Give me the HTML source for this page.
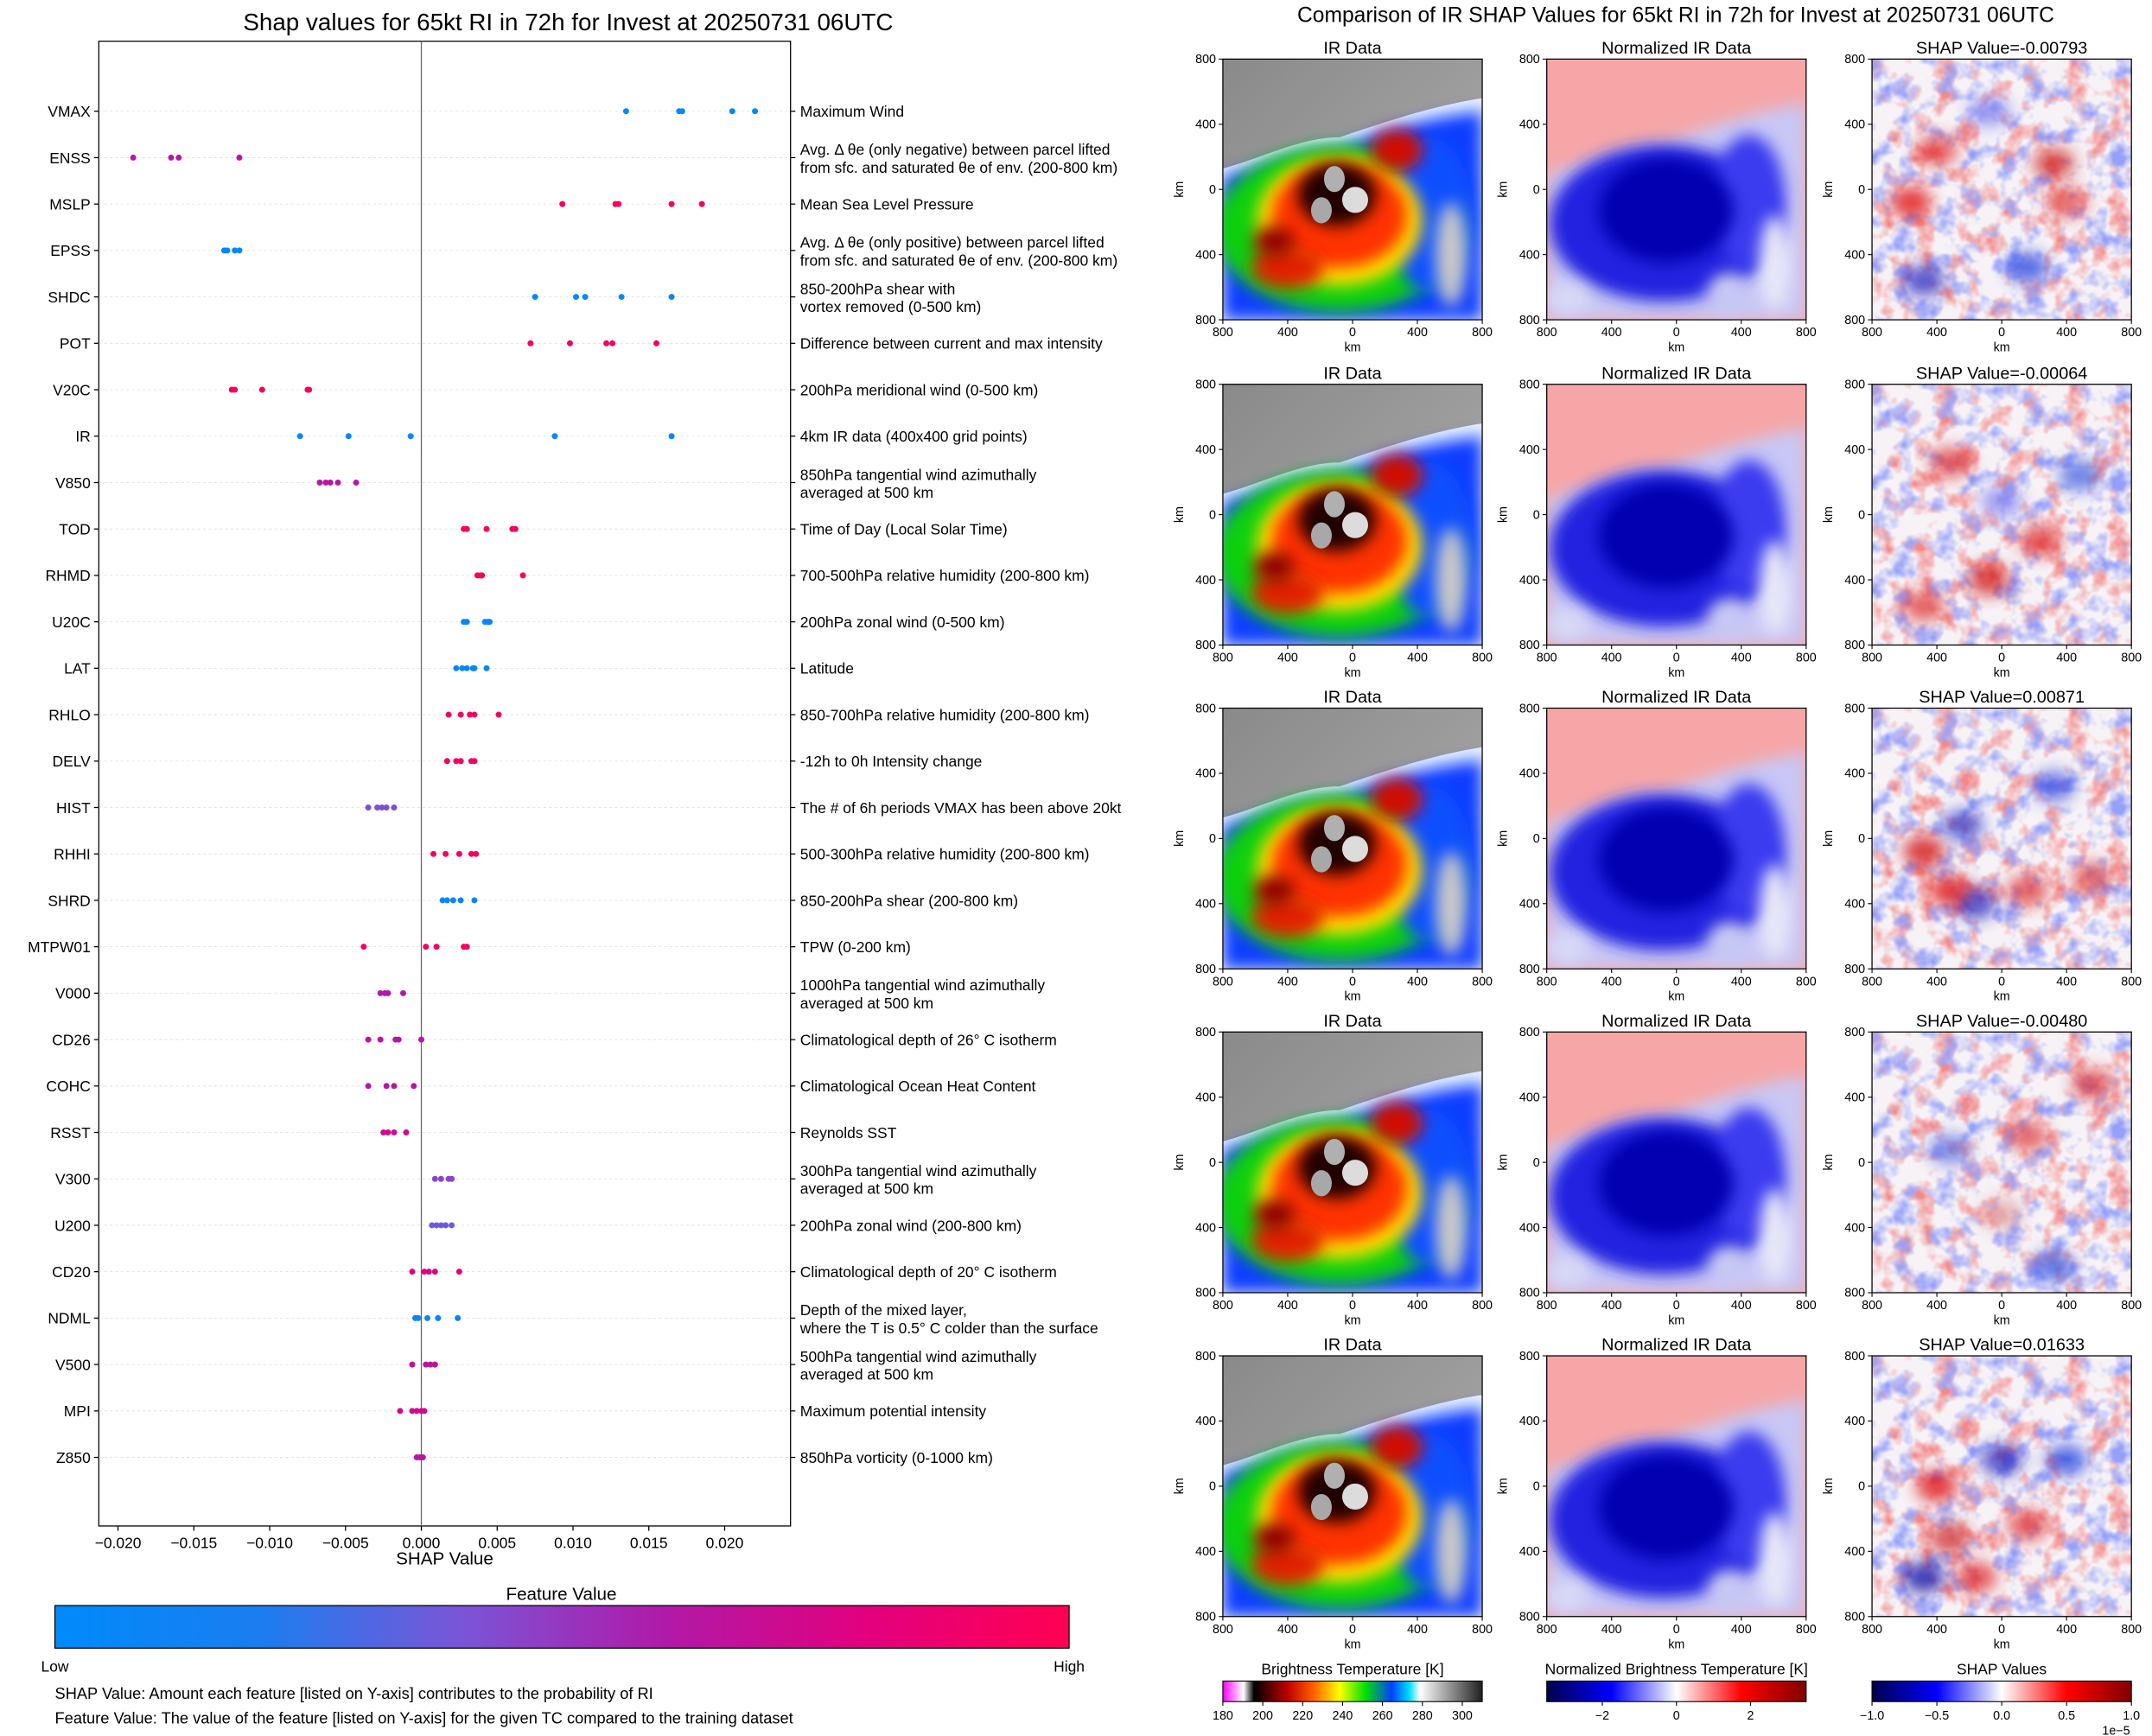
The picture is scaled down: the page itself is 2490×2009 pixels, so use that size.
<!DOCTYPE html>
<html><head><meta charset="utf-8"><style>
html,body{margin:0;padding:0;background:#fff}
svg{display:block;font-family:"Liberation Sans","DejaVu Sans",sans-serif}
</style></head><body>
<svg id="root" width="2490" height="2009" viewBox="0 0 1568 1265" xmlns="http://www.w3.org/2000/svg">
<defs>
<linearGradient id="fvGrad" x1="0" x2="1" y1="0" y2="0">
<stop offset="0" stop-color="#008afb"/><stop offset="0.2" stop-color="#1a7ef0"/><stop offset="0.4" stop-color="#7a55d6"/><stop offset="0.6" stop-color="#b01aa8"/><stop offset="0.8" stop-color="#e2007e"/><stop offset="1" stop-color="#ff0052"/></linearGradient>
<linearGradient id="btGrad" x1="0" x2="1"><stop offset="0" stop-color="#ff00ff"/><stop offset="0.08" stop-color="#fff"/><stop offset="0.12" stop-color="#000"/><stop offset="0.25" stop-color="#c00000"/><stop offset="0.35" stop-color="#ff6000"/><stop offset="0.45" stop-color="#ffff00"/><stop offset="0.55" stop-color="#00e000"/><stop offset="0.65" stop-color="#0040ff"/><stop offset="0.72" stop-color="#00e0ff"/><stop offset="0.76" stop-color="#fff"/><stop offset="1" stop-color="#202020"/></linearGradient>
<linearGradient id="seis" x1="0" x2="1"><stop offset="0" stop-color="#00004c"/><stop offset="0.25" stop-color="#0000ff"/><stop offset="0.5" stop-color="#ffffff"/><stop offset="0.75" stop-color="#ff0000"/><stop offset="1" stop-color="#800000"/></linearGradient>
<linearGradient id="grayBg" x1="0" y1="0" x2="1" y2="1"><stop offset="0" stop-color="#8a8a8a"/><stop offset="0.5" stop-color="#9c9c9c"/><stop offset="1" stop-color="#b0b0b0"/></linearGradient>
<filter id="bl3" x="-50%" y="-50%" width="200%" height="200%"><feGaussianBlur stdDeviation="3"/></filter>
<filter id="noiseR" x="0" y="0" width="100%" height="100%"><feTurbulence type="fractalNoise" baseFrequency="0.12" numOctaves="3" seed="4"/><feColorMatrix values="0 0 0 0 0.9  0 0 0 0 0.25  0 0 0 0 0.25  3 0 0 0 -1.45"/></filter>
<filter id="noiseB" x="0" y="0" width="100%" height="100%"><feTurbulence type="fractalNoise" baseFrequency="0.12" numOctaves="3" seed="11"/><feColorMatrix values="0 0 0 0 0.3  0 0 0 0 0.35  0 0 0 0 0.95  3 0 0 0 -1.45"/></filter>
<clipPath id="cp"><rect x="0" y="0" width="100" height="100"/></clipPath>
<g id="irImg" clip-path="url(#cp)">
<rect width="100" height="100" fill="url(#grayBg)"/>
<path d="M0,42 C15,38 30,30 45,30 C60,25 80,18 100,15 L100,100 L0,100 Z" fill="#e8f0ff"/>
<path d="M0,45 C15,42 30,34 45,34 C60,28 80,22 100,20 L100,100 L0,100 Z" fill="#0a3cff" filter="url(#bl3)"/>
<ellipse cx="45" cy="65" rx="48" ry="32" fill="#10d010" filter="url(#bl3)"/>
<ellipse cx="80" cy="60" rx="16" ry="30" fill="#1050ff" filter="url(#bl3)"/>
<ellipse cx="45" cy="62" rx="32" ry="25" fill="#ffe000" filter="url(#bl3)"/>
<ellipse cx="45" cy="60" rx="26" ry="20" fill="#ff3000" filter="url(#bl3)"/>
<ellipse cx="67" cy="35" rx="10" ry="8" fill="#d01000" filter="url(#bl3)"/>
<ellipse cx="25" cy="80" rx="14" ry="8" fill="#e02000" filter="url(#bl3)"/>
<ellipse cx="20" cy="70" rx="8" ry="6" fill="#900000" filter="url(#bl3)"/>
<ellipse cx="44" cy="52" rx="15" ry="12" fill="#200000" filter="url(#bl3)"/>
<ellipse cx="51" cy="54" rx="5" ry="5" fill="#dcdcdc"/>
<ellipse cx="43" cy="46" rx="4" ry="5" fill="#b0b0b0"/>
<ellipse cx="38" cy="58" rx="4" ry="5" fill="#a8a8a8"/>
<ellipse cx="88" cy="75" rx="6" ry="20" fill="#c8c8c8" filter="url(#bl3)"/>
</g>
<g id="nirImg" clip-path="url(#cp)">
<rect width="100" height="100" fill="#f6a6a6"/>
<path d="M0,44 C15,40 30,32 45,32 C60,27 80,20 100,17 L100,100 L0,100 Z" fill="#c8c8f6" filter="url(#bl3)"/>
<ellipse cx="45" cy="63" rx="44" ry="30" fill="#2020e0" filter="url(#bl3)"/>
<ellipse cx="78" cy="55" rx="14" ry="26" fill="#3a3af0" filter="url(#bl3)"/>
<ellipse cx="46" cy="58" rx="26" ry="20" fill="#0000b0" filter="url(#bl3)"/>
<ellipse cx="88" cy="78" rx="6" ry="18" fill="#e8e8f8" filter="url(#bl3)"/>
<ellipse cx="70" cy="90" rx="8" ry="8" fill="#c8c8f4" filter="url(#bl3)"/>
<ellipse cx="8" cy="92" rx="8" ry="6" fill="#d8d8f6" filter="url(#bl3)"/>
</g>
</defs>
<g id="left"></g>
<g id="right"></g>
</svg>
<script>
const features=["VMAX","ENSS","MSLP","EPSS","SHDC","POT","V20C","IR","V850","TOD","RHMD","U20C","LAT","RHLO","DELV","HIST","RHHI","SHRD","MTPW01","V000","CD26","COHC","RSST","V300","U200","CD20","NDML","V500","MPI","Z850"];
const descriptions=[["Maximum Wind"],["Avg. Δ θe (only negative) between parcel lifted","from sfc. and saturated θe of env. (200-800 km)"],["Mean Sea Level Pressure"],["Avg. Δ θe (only positive) between parcel lifted","from sfc. and saturated θe of env. (200-800 km)"],["850-200hPa shear with","vortex removed (0-500 km)"],["Difference between current and max intensity"],["200hPa meridional wind (0-500 km)"],["4km IR data (400x400 grid points)"],["850hPa tangential wind azimuthally","averaged at 500 km"],["Time of Day (Local Solar Time)"],["700-500hPa relative humidity (200-800 km)"],["200hPa zonal wind (0-500 km)"],["Latitude"],["850-700hPa relative humidity (200-800 km)"],["-12h to 0h Intensity change"],["The # of 6h periods VMAX has been above 20kt"],["500-300hPa relative humidity (200-800 km)"],["850-200hPa shear (200-800 km)"],["TPW (0-200 km)"],["1000hPa tangential wind azimuthally","averaged at 500 km"],["Climatological depth of 26° C isotherm"],["Climatological Ocean Heat Content"],["Reynolds SST"],["300hPa tangential wind azimuthally","averaged at 500 km"],["200hPa zonal wind (200-800 km)"],["Climatological depth of 20° C isotherm"],["Depth of the mixed layer,","where the T is 0.5° C colder than the surface"],["500hPa tangential wind azimuthally","averaged at 500 km"],["Maximum potential intensity"],["850hPa vorticity (0-1000 km)"]];
const shapValues=[[0.0135,0.017,0.0172,0.0205,0.022],[-0.019,-0.0165,-0.016,-0.012],[0.0093,0.0128,0.013,0.0165,0.0185],[-0.013,-0.0128,-0.0123,-0.012],[0.0075,0.0102,0.0108,0.0132,0.0165],[0.0072,0.0098,0.0122,0.0126,0.0155],[-0.0125,-0.0123,-0.0105,-0.0075,-0.0074],[-0.008,-0.0048,-0.0007,0.0088,0.0165],[-0.0067,-0.0063,-0.006,-0.0055,-0.0043],[0.0028,0.003,0.0043,0.006,0.0062],[0.0037,0.0039,0.004,0.0067],[0.0028,0.003,0.0042,0.0044,0.0045],[0.0023,0.0027,0.003,0.0034,0.0035,0.0043],[0.0018,0.0026,0.0032,0.0035,0.0051],[0.0017,0.0023,0.0026,0.0033,0.0035],[-0.0035,-0.0029,-0.0026,-0.0023,-0.0018],[0.0008,0.0016,0.0025,0.0033,0.0036],[0.0014,0.0017,0.0021,0.0026,0.0035],[-0.0038,0.0003,0.001,0.0028,0.003],[-0.0027,-0.0024,-0.0022,-0.0012],[-0.0035,-0.0027,-0.0017,-0.0015,0.0],[-0.0035,-0.0023,-0.0018,-0.0005],[-0.0025,-0.0022,-0.0018,-0.001],[0.0009,0.0013,0.0018,0.002],[0.0007,0.001,0.0013,0.0016,0.002],[-0.0006,0.0002,0.0005,0.0009,0.0025],[-0.0004,-0.0002,0.0004,0.0011,0.0024],[-0.0006,0.0003,0.0006,0.0009],[-0.0014,-0.0006,-0.0003,0.0,0.0002],[-0.0003,-0.0001,0.0001]];
const featureValues=[0.03,0.62,0.95,0.03,0.05,0.93,0.95,0.05,0.62,0.95,0.95,0.08,0.08,0.93,0.93,0.42,0.93,0.06,0.93,0.6,0.62,0.62,0.72,0.45,0.38,0.78,0.1,0.62,0.72,0.62];
const xTicks=[-0.020,-0.015,-0.010,-0.005,0.000,0.005,0.010,0.015,0.020];
const xTickLabels=["−0.020","−0.015","−0.010","−0.005","0.000","0.005","0.010","0.015","0.020"];
const panelTitles=["SHAP Value=-0.00793","SHAP Value=-0.00064","SHAP Value=0.00871","SHAP Value=-0.00480","SHAP Value=0.01633"];
const btTicks=[180,200,220,240,260,280,300];
const nTicks=[-2,0,2];
const sTicks=["−1.0","−0.5","0.0","0.5","1.0"];

const NS="http://www.w3.org/2000/svg";
function mk(p,t,a,txt){const e=document.createElementNS(NS,t);for(const k in a)e.setAttribute(k,a[k]);if(txt!==undefined)e.textContent=txt;p.appendChild(e);return e;}
const L=document.getElementById('left');
const AX={x0:72,x1:576,y0:30,y1:1112};
const xS=v=>307+v*(528-307)/0.02;
const yS=i=>81+i*(1062-81)/29;
function cmap(t){const s=[[0,[0,138,251]],[0.2,[26,126,240]],[0.4,[122,85,214]],[0.6,[176,26,168]],[0.8,[226,0,126]],[1,[255,0,82]]];for(let i=1;i<s.length;i++){if(t<=s[i][0]){const f=(t-s[i-1][0])/(s[i][0]-s[i-1][0]);const c=s[i-1][1].map((v,k)=>Math.round(v+f*(s[i][1][k]-v)));return`rgb(${c})`;}}return'rgb(255,0,82)';}
let e;
e=mk(L,'text',{x:414,y:22,'font-size':17.5,'text-anchor':'middle'},"Shap values for 65kt RI in 72h for Invest at 20250731 06UTC");

e=mk(L,'rect',{x:AX.x0,y:AX.y0,width:AX.x1-AX.x0,height:AX.y1-AX.y0,fill:'none',stroke:'#000','stroke-width':0.8});

features.forEach((f,i)=>{const y=yS(i);
 e=mk(L,'line',{x1:AX.x0,x2:AX.x1,y1:y,y2:y,stroke:'#ddd','stroke-width':0.5,'stroke-dasharray':'2,2'});
 
 e=mk(L,'line',{x1:AX.x0-3.5,x2:AX.x0,y1:y,y2:y,stroke:'#000','stroke-width':0.8});
 e=mk(L,'text',{x:66,y:y+4,'font-size':11,'text-anchor':'end'},f);
 
 e=mk(L,'line',{x1:AX.x1,x2:AX.x1+3.5,y1:y,y2:y,stroke:'#000','stroke-width':0.8});
 const d=descriptions[i];
 d.forEach((ln,k)=>{const yy=d.length===1?y+4:y-2+k*13;
  e=mk(L,'text',{x:583,y:yy,'font-size':11},ln);
  });
});
e=mk(L,'line',{x1:xS(0),x2:xS(0),y1:AX.y0,y2:AX.y1,stroke:'#666','stroke-width':0.8});

shapValues.forEach((arr,i)=>{arr.forEach(v=>{
 e=mk(L,'circle',{cx:xS(v),cy:yS(i),r:2.2,fill:cmap(featureValues[i])});
 });});
xTicks.forEach((v,i)=>{const x=xS(v);
 mk(L,'line',{x1:x,x2:x,y1:AX.y1,y2:AX.y1+3.5,stroke:'#000','stroke-width':0.8});
 e=mk(L,'text',{x:x,y:AX.y1+16,'font-size':11,'text-anchor':'middle'},xTickLabels[i]);
 });
e=mk(L,'text',{x:324,y:1140,'font-size':13,'text-anchor':'middle'},"SHAP Value");

e=mk(L,'text',{x:409,y:1166,'font-size':13,'text-anchor':'middle'},"Feature Value");

e=mk(L,'rect',{x:40,y:1170,width:739,height:31,fill:'url(#fvGrad)',stroke:'#000','stroke-width':0.8});

e=mk(L,'text',{x:40,y:1218,'font-size':11,'text-anchor':'middle'},"Low");

e=mk(L,'text',{x:779,y:1218,'font-size':11,'text-anchor':'middle'},"High");

e=mk(L,'text',{x:40,y:1238,'font-size':11.5},"SHAP Value: Amount each feature [listed on Y-axis] contributes to the probability of RI");

e=mk(L,'text',{x:40,y:1256,'font-size':11.5},"Feature Value: The value of the feature [listed on Y-axis] for the given TC compared to the training dataset");


const R=document.getElementById('right');
e=mk(R,'text',{x:1221,y:16,'font-size':15.5,'text-anchor':'middle'},"Comparison of IR SHAP Values for 65kt RI in 72h for Invest at 20250731 06UTC");

const colX=[891,1127,1364],rowY=[43,280,516,752,988],W=189,H=190;
const shapBlobs=[
[[15,55,'#e00000'],[25,35,'#e03030'],[60,80,'#2040e0'],[70,40,'#d02020'],[20,85,'#2020c0'],[45,20,'#8080f0'],[75,55,'#e04040']],
[[30,30,'#e03030'],[65,60,'#e02020'],[45,75,'#d01010'],[20,85,'#e03030'],[80,35,'#4060e0'],[50,45,'#8080f0']],
[[20,55,'#d00000'],[35,45,'#3040d0'],[60,70,'#e03030'],[40,75,'#2020c0'],[70,30,'#4050e0'],[85,65,'#e04040'],[30,70,'#e00000']],
[[60,40,'#e04040'],[85,20,'#e03030'],[30,45,'#6070e0'],[70,90,'#3050e0'],[50,70,'#e0a0a0']],
[[25,50,'#e00000'],[20,85,'#0000a0'],[50,40,'#2020c0'],[60,65,'#e03030'],[75,40,'#2040e0'],[40,85,'#e02020'],[30,70,'#d02020']]];
function axes(g,x,y){
 mk(g,'rect',{x:x,y:y,width:W,height:H,fill:'none',stroke:'#000','stroke-width':0.8});
 ["800","400","0","400","800"].forEach((t,k)=>{const xx=x+k*W/4,yy=y+k*H/4;
  mk(g,'line',{x1:xx,x2:xx,y1:y+H,y2:y+H+3,stroke:'#000','stroke-width':0.7});
  mk(g,'text',{x:xx,y:y+H+12,'font-size':9,'text-anchor':'middle'},t);
  mk(g,'line',{x1:x-3,x2:x,y1:yy,y2:yy,stroke:'#000','stroke-width':0.7});
  mk(g,'text',{x:x-5,y:yy+3,'font-size':9,'text-anchor':'end'},t);});
 mk(g,'text',{x:x+W/2,y:y+H+23,'font-size':9,'text-anchor':'middle'},"km");
 mk(g,'text',{x:0,y:0,'font-size':9,'text-anchor':'middle',transform:`translate(${x-29},${y+H/2}) rotate(-90)`},"km");
}
rowY.forEach((y,r)=>{
 colX.forEach((x,c)=>{
  const g=mk(R,'g',{});
  
  
  const title=c===0?"IR Data":c===1?"Normalized IR Data":panelTitles[r];
  mk(g,'text',{x:x+W/2,y:y-4,'font-size':12.5,'text-anchor':'middle'},title);
  if(c<2){mk(g,'use',{href:c===0?'#irImg':'#nirImg',transform:`translate(${x},${y}) scale(${W/100},${H/100})`});}
  else{
   const s=mk(g,'g',{transform:`translate(${x},${y}) scale(${W/100},${H/100})`,'clip-path':'url(#cp)'});
   mk(s,'rect',{width:100,height:100,fill:'#f6f2f6'});
   mk(s,'rect',{width:100,height:100,fill:'#fff',filter:'url(#noiseR)'});
   mk(s,'rect',{width:100,height:100,fill:'#fff',filter:'url(#noiseB)'});
   shapBlobs[r].forEach(b=>mk(s,'ellipse',{cx:b[0],cy:b[1],rx:8,ry:6,fill:b[2],opacity:0.75,filter:'url(#bl3)'}));
  }
  axes(g,x,y);
 });
});
function cbar(x,grad,title,ticks,pos,name){
 const g=mk(R,'g',{});
 mk(g,'text',{x:x+W/2,y:1220,'font-size':11,'text-anchor':'middle'},title);
 mk(g,'rect',{x:x,y:1225,width:W,height:15,fill:`url(#${grad})`,stroke:'#000','stroke-width':0.7});
 ticks.forEach((t,k)=>{const xx=x+pos(k)*W;
  mk(g,'line',{x1:xx,x2:xx,y1:1240,y2:1243,stroke:'#000','stroke-width':0.7});
  mk(g,'text',{x:xx,y:1253,'font-size':9,'text-anchor':'middle'},String(t).replace('-','−'));});
}
cbar(891,'btGrad',"Brightness Temperature [K]",btTicks,k=>(btTicks[k]-180)/130,'brightness-colorbar');
cbar(1127,'seis',"Normalized Brightness Temperature [K]",nTicks,k=>(nTicks[k]+3.5)/7,'normalized-colorbar');
cbar(1364,'seis',"SHAP Values",sTicks,k=>k/4,'shap-colorbar');
e=mk(R,'text',{x:1552,y:1264,'font-size':9,'text-anchor':'end'},"1e−5");

</script>
</body></html>
